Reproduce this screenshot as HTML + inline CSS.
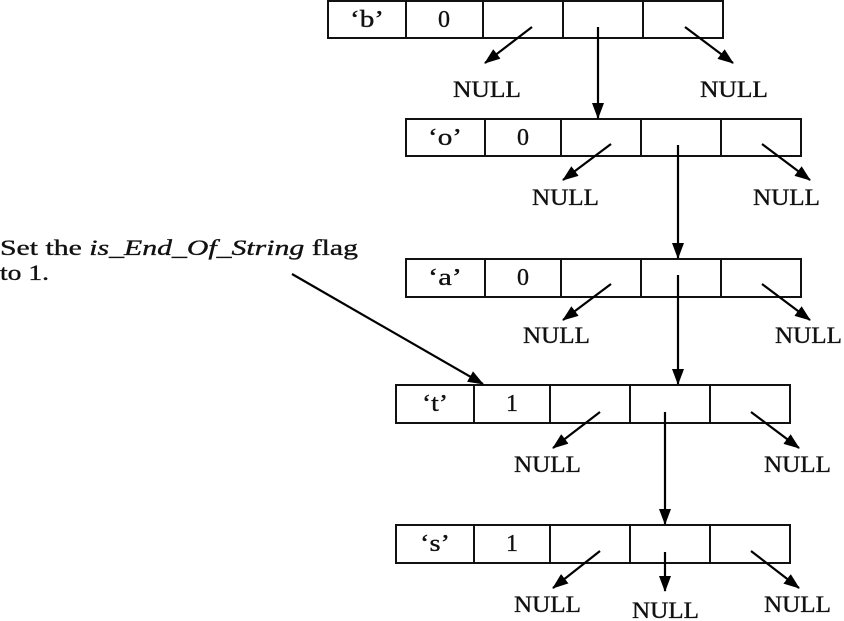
<!DOCTYPE html>
<html><head><meta charset="utf-8"><style>
html,body{margin:0;padding:0;background:#fff;}
svg{display:block;}
text{font-family:"Liberation Serif",serif;fill:#111;stroke:#111;stroke-width:0.35px;}
.c{font-size:24px;}
.n{font-size:23px;}
.t{font-size:22px;}
</style></head><body>
<svg width="844" height="621" viewBox="0 0 844 621" xmlns="http://www.w3.org/2000/svg">
<defs>
<marker id="a" markerWidth="16" markerHeight="12" refX="15" refY="6" orient="auto" markerUnits="userSpaceOnUse">
<path d="M0,0 L16,6 L0,12 z" fill="#000"/>
</marker>
</defs>
<g fill="none" stroke="#111" stroke-width="2">
<rect x="328" y="1" width="395" height="37"/>
<path d="M406,1V38M483,1V38M563,1V38M643,1V38"/>
<rect x="406" y="119" width="395" height="37"/>
<path d="M485,119V156M561,119V156M641,119V156M721,119V156"/>
<rect x="406" y="259" width="395" height="38"/>
<path d="M485,259V297M561,259V297M641,259V297M721,259V297"/>
<rect x="396" y="385" width="394" height="38"/>
<path d="M474,385V423M550,385V423M630,385V423M710,385V423"/>
<rect x="396" y="525" width="394" height="38"/>
<path d="M474,525V563M550,525V563M630,525V563M710,525V563"/>
</g>
<g stroke="#000" stroke-width="2.2" marker-end="url(#a)">
<line x1="532" y1="27" x2="485" y2="63"/>
<line x1="598" y1="27" x2="598" y2="118"/>
<line x1="685" y1="27" x2="733" y2="63"/>
<line x1="611" y1="144" x2="563" y2="180"/>
<line x1="678" y1="145" x2="678" y2="258"/>
<line x1="762" y1="144" x2="810" y2="180"/>
<line x1="611" y1="284" x2="563" y2="320"/>
<line x1="678" y1="275" x2="678" y2="384"/>
<line x1="762" y1="284" x2="810" y2="320"/>
<line x1="600" y1="412" x2="553" y2="448"/>
<line x1="665" y1="412" x2="665" y2="524"/>
<line x1="751" y1="412" x2="799" y2="448"/>
<line x1="600" y1="551" x2="553" y2="588"/>
<line x1="665" y1="552" x2="665" y2="591"/>
<line x1="751" y1="551" x2="799" y2="588"/>
<line x1="292" y1="274" x2="483" y2="384"/>
</g>
<g text-anchor="middle">
<text class="c" x="367" y="27" textLength="34" lengthAdjust="spacingAndGlyphs">‘b’</text><text class="c" x="444" y="27">0</text>
<text class="c" x="445" y="145" textLength="34" lengthAdjust="spacingAndGlyphs">‘o’</text><text class="c" x="523" y="145">0</text>
<text class="c" x="445" y="285" textLength="34" lengthAdjust="spacingAndGlyphs">‘a’</text><text class="c" x="523" y="285">0</text>
<text class="c" x="435" y="411" textLength="26" lengthAdjust="spacingAndGlyphs">‘t’</text><text class="c" x="512" y="411">1</text>
<text class="c" x="435" y="551" textLength="30" lengthAdjust="spacingAndGlyphs">‘s’</text><text class="c" x="512" y="551">1</text>
</g>
<g>
<text class="n" x="453" y="97" textLength="68" lengthAdjust="spacingAndGlyphs">NULL</text>
<text class="n" x="700" y="97" textLength="68" lengthAdjust="spacingAndGlyphs">NULL</text>
<text class="n" x="532" y="205" textLength="67" lengthAdjust="spacingAndGlyphs">NULL</text>
<text class="n" x="753" y="205" textLength="67" lengthAdjust="spacingAndGlyphs">NULL</text>
<text class="n" x="523" y="343" textLength="67" lengthAdjust="spacingAndGlyphs">NULL</text>
<text class="n" x="775" y="343" textLength="67" lengthAdjust="spacingAndGlyphs">NULL</text>
<text class="n" x="514" y="472" textLength="67" lengthAdjust="spacingAndGlyphs">NULL</text>
<text class="n" x="764" y="472" textLength="67" lengthAdjust="spacingAndGlyphs">NULL</text>
<text class="n" x="514" y="612" textLength="67" lengthAdjust="spacingAndGlyphs">NULL</text>
<text class="n" x="632" y="618" textLength="67" lengthAdjust="spacingAndGlyphs">NULL</text>
<text class="n" x="764" y="612" textLength="67" lengthAdjust="spacingAndGlyphs">NULL</text>
</g>
<text class="t" x="0" y="255" textLength="358" lengthAdjust="spacingAndGlyphs">Set the <tspan font-style="italic">is_End_Of_String</tspan> flag</text>
<text class="t" x="0" y="280" textLength="49" lengthAdjust="spacingAndGlyphs">to 1.</text>
</svg>
</body></html>
